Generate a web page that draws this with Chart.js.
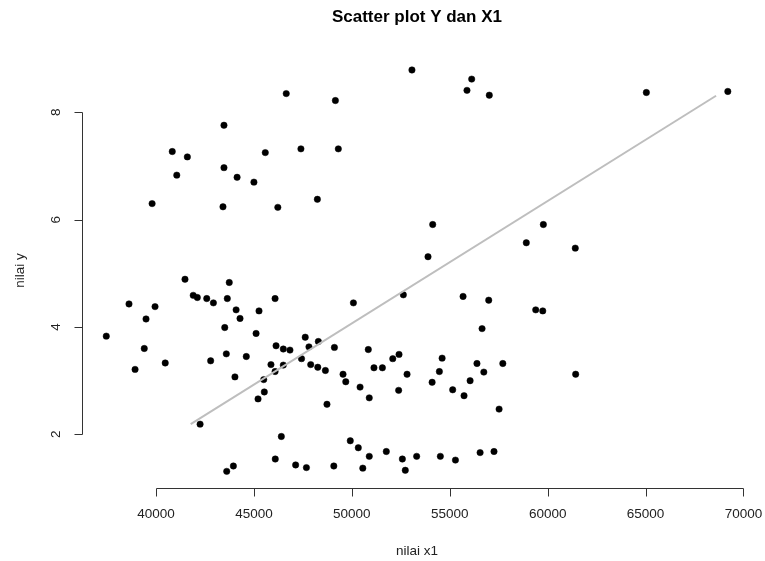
<!DOCTYPE html>
<html>
<head>
<meta charset="utf-8">
<title>Scatter plot Y dan X1</title>
<script src="https://cdn.jsdelivr.net/npm/chart.js@4.4.1/dist/chart.umd.min.js"></script>
<style>
    html, body { margin: 0; padding: 0; background: #fff; }
    #wrap { width: 765px; height: 561px; }
</style>
</head>
<body>
<div id="wrap"><canvas id="scatterChart" width="765" height="561"></canvas></div>
<script>
// data
const xValues = [
    43470, 40830, 41600, 43470, 41060, 44140, 45000, 39800, 43420, 53070,
    46650, 49160, 45580, 47400, 49310, 46220, 48240, 56120, 55880, 57020,
    65040, 69200,
    41480, 43740, 41900, 42110, 42590, 42930, 43640, 38620, 39950, 44090,
    45260, 39490, 44290, 43510, 45110, 37460, 39400, 43590, 44610, 42790,
    52630, 50080, 46080, 47620, 46130, 46500, 46840, 47810, 48290, 49110,
    50840, 52410, 52090, 47430, 54130, 59780, 58910, 61410, 53890, 55680,
    56990, 59390, 59750, 56650, 54610, 38930, 40470, 44030, 45870, 46080,
    46500, 45500, 47900, 48260, 48650, 45530, 45210, 48730, 42250, 49550,
    49690, 51130, 51560, 52820, 56390, 57710, 54470, 56740, 61430, 50420,
    50890, 52390, 54100, 55150, 55730, 56040, 57520,
    46400, 46090, 43950, 43610, 47130, 47680, 49080, 49920, 50330, 50890,
    51760, 52580, 53310, 54520, 55290, 56550, 57260, 50560, 52730
];
const yValues = [
    7.76, 7.27, 7.17, 6.97, 6.83, 6.79, 6.70, 6.30, 6.24, 8.79,
    8.35, 8.22, 7.25, 7.32, 7.32, 6.23, 6.38, 8.62, 8.41, 8.32,
    8.37, 8.39,
    4.89, 4.83, 4.59, 4.55, 4.53, 4.45, 4.53, 4.43, 4.38, 4.32,
    4.30, 4.15, 4.16, 3.99, 3.88, 3.83, 3.60, 3.50, 3.45, 3.37,
    4.60, 4.45, 4.53, 3.81, 3.65, 3.59, 3.57, 3.63, 3.73, 3.62,
    3.58, 3.49, 3.41, 3.41, 5.91, 5.91, 5.57, 5.47, 5.31, 4.57,
    4.50, 4.32, 4.30, 3.97, 3.42, 3.21, 3.33, 3.07, 3.30, 3.17,
    3.29, 3.02, 3.30, 3.25, 3.19, 2.79, 2.66, 2.56, 2.19, 3.12,
    2.98, 3.24, 3.24, 3.12, 3.32, 3.32, 3.17, 3.16, 3.12, 2.88,
    2.68, 2.82, 2.97, 2.83, 2.72, 3.00, 2.47,
    1.96, 1.54, 1.41, 1.31, 1.43, 1.38, 1.41, 1.88, 1.75, 1.59,
    1.68, 1.54, 1.59, 1.59, 1.52, 1.66, 1.68, 1.37, 1.33
];

// fitted line (ends as drawn)
const fitX = [41770, 68600];
const fitY = [2.19, 8.31];

const xTicks = [40000, 45000, 50000, 55000, 60000, 65000, 70000];
const yTicks = [2, 4, 6, 8];

const titleText = 'Scatter plot Y dan X1';
const xLabel = 'nilai x1';
const yLabel = 'nilai y';

const FONT = '"Liberation Sans", Arial, sans-serif';
const INK = '#222';

// base-graphics style axes: lines only between first and last tick
const rAxes = {
    id: 'rAxes',
    afterDraw(chart) {
        const ctx = chart.ctx;
        const xs = chart.scales.x;
        const ys = chart.scales.y;
        const area = chart.chartArea;
        const bottom = Math.round(area.bottom) + 0.5;
        const left = Math.round(area.left) + 0.5;

        ctx.save();
        ctx.strokeStyle = '#333';
        ctx.lineWidth = 1;
        ctx.fillStyle = INK;

        // x axis
        const x0 = Math.round(xs.getPixelForValue(xTicks[0])) + 0.5;
        const x1 = Math.round(xs.getPixelForValue(xTicks[xTicks.length - 1])) + 0.5;
        ctx.beginPath();
        ctx.moveTo(x0, bottom);
        ctx.lineTo(x1, bottom);
        xTicks.forEach(v => {
            const px = Math.round(xs.getPixelForValue(v)) + 0.5;
            ctx.moveTo(px, bottom);
            ctx.lineTo(px, bottom + 8);
        });
        ctx.stroke();

        ctx.font = '13.5px ' + FONT;
        ctx.textAlign = 'center';
        ctx.textBaseline = 'middle';
        xTicks.forEach(v => {
            ctx.fillText(String(v), xs.getPixelForValue(v), 514);
        });

        // y axis
        const y0 = Math.round(ys.getPixelForValue(yTicks[0])) + 0.5;
        const y1 = Math.round(ys.getPixelForValue(yTicks[yTicks.length - 1])) + 0.5;
        ctx.beginPath();
        ctx.moveTo(left, y0);
        ctx.lineTo(left, y1);
        yTicks.forEach(v => {
            const py = Math.round(ys.getPixelForValue(v)) + 0.5;
            ctx.moveTo(left, py);
            ctx.lineTo(left - 8, py);
        });
        ctx.stroke();

        yTicks.forEach(v => {
            ctx.save();
            ctx.translate(56, ys.getPixelForValue(v));
            ctx.rotate(-Math.PI / 2);
            ctx.fillText(String(v), 0, 0);
            ctx.restore();
        });

        // axis titles
        const midX = (area.left + area.right) / 2;
        const midY = (area.top + area.bottom) / 2;
        ctx.fillText(xLabel, midX, 551);
        ctx.save();
        ctx.translate(20.5, midY);
        ctx.rotate(-Math.PI / 2);
        ctx.fillText(yLabel, 0, 0);
        ctx.restore();

        // main title
        ctx.font = 'bold 17px ' + FONT;
        ctx.fillStyle = '#000';
        ctx.fillText(titleText, midX, 17);
        ctx.restore();
    }
};

const ctx = document.getElementById('scatterChart').getContext('2d');
const scatterChart = new Chart(ctx, {
    type: 'scatter',
    data: {
        datasets: [
            {
                type: 'line',
                label: 'fit',
                data: fitX.map((x, i) => ({ x: x, y: fitY[i] })),
                borderColor: '#bebebe',
                borderWidth: 2,
                pointRadius: 0,
                fill: false,
                showLine: true,
                order: 0
            },
            {
                label: 'data',
                data: xValues.map((x, i) => ({ x: x, y: yValues[i] })),
                backgroundColor: '#000',
                borderColor: '#000',
                borderWidth: 0.5,
                pointRadius: 3.2,
                pointHoverRadius: 3.2,
                order: 1
            }
        ]
    },
    options: {
        responsive: false,
        animation: false,
        devicePixelRatio: 1,
        clip: false,
        layout: {
            padding: { left: 82, right: 13.1, top: 52.8, bottom: 73 }
        },
        plugins: {
            legend: { display: false },
            title: { display: false },
            tooltip: { enabled: false }
        },
        scales: {
            x: { type: 'linear', min: 36220, max: 70430, display: false },
            y: { type: 'linear', min: 1.0, max: 9.11, display: false }
        }
    },
    plugins: [rAxes]
});
</script>
</body>
</html>
